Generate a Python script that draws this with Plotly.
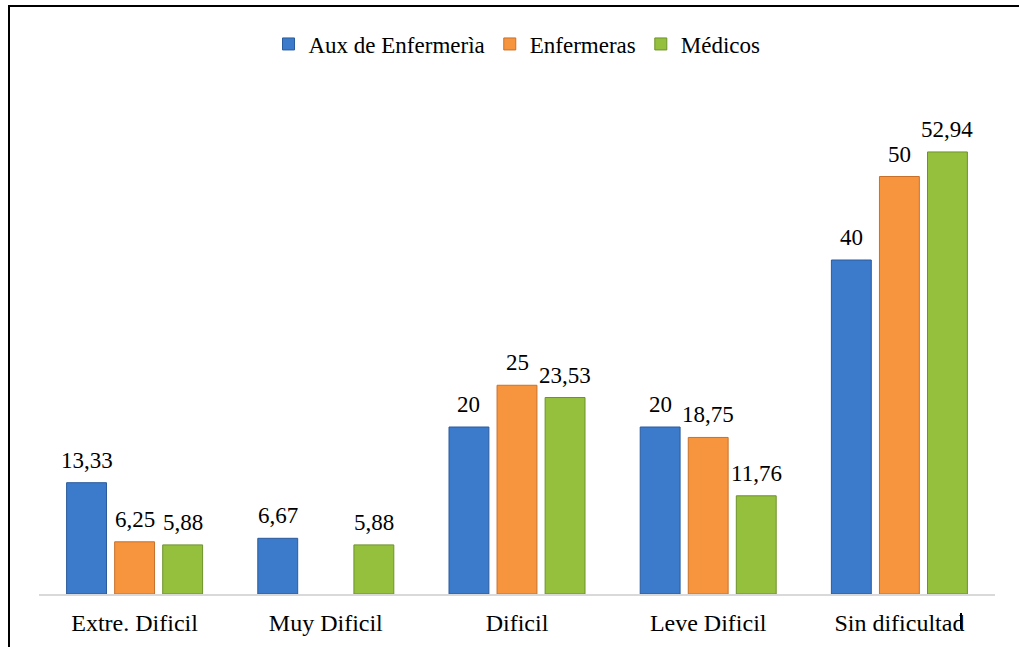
import plotly.graph_objects as go

categories = ["Extre. Dificil", "Muy Dificil", "Dificil", "Leve Dificil", "Sin dificultad"]
aux_enfermeria = [13.33, 6.67, 20, 20, 40]
enfermeras = [6.25, None, 25, 18.75, 50]
medicos = [5.88, 5.88, 23.53, 11.76, 52.94]

series = [
    ("Aux de Enfermerìa", aux_enfermeria, "#3c7bcb", "#2a5b9c"),
    ("Enfermeras", enfermeras, "#f7953f", "#c8702a"),
    ("Médicos", medicos, "#94c03e", "#6d922a"),
]

SERIF = "Liberation Serif, Times New Roman, Times, serif"

def fmt(v):
    s = ("%.2f" % v).rstrip("0").rstrip(".")
    return s.replace(".", ",")

W, H = 1019, 647
L, R, T, B = 39, 24, 93, 53
pw, ph = W - L - R, H - T - B
BARGAP, GROUPGAP = 0.246, 0.17
slot = pw / len(categories) * (1 - BARGAP) / len(series)

def px(x):
    return (x - L) / pw

def py(y):
    return (H - B - y) / ph

fig = go.Figure()
annotations = []
for i, (name, vals, col, edge) in enumerate(series):
    fig.add_trace(go.Bar(
        x=categories, y=vals, name=name,
        marker=dict(color=col, line=dict(color=edge, width=1)),
    ))
    for c, v in zip(categories, vals):
        if v is None:
            continue
        annotations.append(dict(
            x=c, y=v, xref="x", yref="y", text=fmt(v), showarrow=False,
            xanchor="center", yanchor="bottom",
            xshift=(i - 1) * slot, yshift=8,
            font=dict(family=SERIF, size=23, color="#000000"),
        ))

fig.update_layout(
    width=W, height=H,
    margin=dict(l=L, r=R, t=T, b=B),
    plot_bgcolor="white", paper_bgcolor="white",
    barmode="group", bargap=BARGAP, bargroupgap=GROUPGAP,
    font=dict(family=SERIF, size=24, color="#000000"),
    legend=dict(orientation="h", x=0.5, xanchor="center", y=py(44), yanchor="middle",
                font=dict(family=SERIF, size=23, color="#000000"), itemwidth=30,
                bgcolor="rgba(0,0,0,0)"),
    xaxis=dict(showline=True, linecolor="#d9d9d9", linewidth=2, ticks="",
               tickfont=dict(family=SERIF, size=24, color="#000000"), showgrid=False,
               ticklabelstandoff=6),
    yaxis=dict(range=[0, 60], visible=False, showgrid=False),
    annotations=annotations,
    shapes=[
        dict(type="line", xref="paper", yref="paper", x0=px(9), x1=px(9), y0=py(6), y1=py(650),
             line=dict(color="black", width=2)),
        dict(type="line", xref="paper", yref="paper", x0=px(8), x1=px(1022), y0=py(6), y1=py(6),
             line=dict(color="black", width=2)),
        dict(type="line", xref="paper", yref="paper", x0=px(961), x1=px(961), y0=py(613), y1=py(629),
             line=dict(color="black", width=2)),
    ],
)

fig.write_html("out.html", config={"displayModeBar": False},
               post_script="document.body.style.margin='0px';")
